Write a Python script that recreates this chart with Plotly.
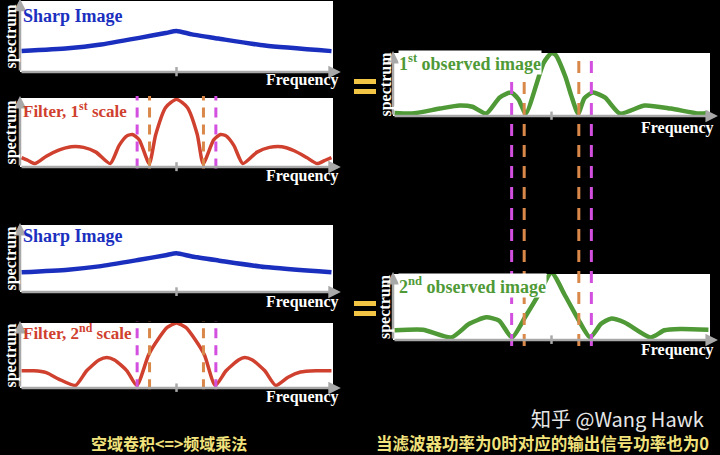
import plotly.graph_objects as go

W, H = 720, 455

# frequency runs -5..5 across every box, amplitude 0..1 is the box height
sharp_freq = [-5.0, -3.5, -2.5, -1.2, -0.35, 0.0, 0.5, 1.35, 2.85, 5.0]
sharp_amp = [0.28, 0.32, 0.37, 0.47, 0.54, 0.57, 0.52, 0.46, 0.36, 0.28]

filter1_freq = [-5.0, -4.8, -4.57, -4.2, -3.8, -3.4, -3.0, -2.6, -2.14, -1.85, -1.6, -1.42,
                -1.2, -0.88, -0.67, -0.35, 0.0, 0.35, 0.67, 0.86, 1.2, 1.42, 1.6, 1.85,
                2.14, 2.6, 3.0, 3.4, 3.8, 4.2, 4.54, 4.8, 5.0]
filter1_amp = [0.12, 0.08, 0.03, 0.14, 0.23, 0.28, 0.27, 0.2, 0.03, 0.3, 0.44, 0.46,
               0.38, 0.03, 0.46, 0.86, 0.98, 0.86, 0.46, 0.03, 0.38, 0.46, 0.44, 0.3,
               0.03, 0.2, 0.27, 0.28, 0.22, 0.12, 0.03, 0.08, 0.12]

filter2_freq = [-5.0, -4.6, -4.2, -3.8, -3.26, -2.9, -2.5, -2.25, -2.0, -1.6, -1.28, -0.9,
                -0.6, -0.3, 0.0, 0.3, 0.6, 0.9, 1.25, 1.6, 2.0, 2.2, 2.45, 2.85, 3.2,
                3.6, 4.0, 4.5, 5.0]
filter2_amp = [0.25, 0.25, 0.22, 0.12, 0.02, 0.25, 0.42, 0.46, 0.42, 0.25, 0.02, 0.5,
               0.74, 0.93, 1.0, 0.93, 0.74, 0.5, 0.02, 0.25, 0.42, 0.46, 0.42, 0.25, 0.02,
               0.15, 0.23, 0.25, 0.25]

obs1_freq = [-5.0, -4.45, -3.56, -2.93, -2.52, -2.08, -1.65, -1.29, -1.05, -0.82, -0.25,
             0.0, 0.13, 0.44, 0.63, 0.85, 1.05, 1.32, 1.7, 2.18, 2.97, 3.8, 4.7, 5.0]
obs1_amp = [0.03, 0.02, 0.1, 0.15, 0.13, 0.02, 0.28, 0.36, 0.25, 0.02, 0.84,
            1.0, 0.97, 0.62, 0.31, 0.02, 0.27, 0.36, 0.28, 0.02, 0.15, 0.1, 0.02, 0.03]

obs2_freq = [-5.0, -4.1, -3.19, -2.62, -2.08, -1.67, -1.26, -0.82, -0.41, 0.0, 0.44, 0.85,
             1.23, 1.58, 1.89, 2.33, 3.15, 3.6, 4.1, 5.0]
obs2_amp = [0.13, 0.14, 0.02, 0.23, 0.33, 0.28, 0.02, 0.35, 0.68, 1.02, 0.66, 0.3,
            0.02, 0.23, 0.31, 0.25, 0.02, 0.13, 0.15, 0.14]

peak_dot_freq = [0.0]
filter1_dot_amp = [1.08]
filter2_dot_amp = [1.12]

# zeros of the two filters
magenta_cuts = [-1.27, 1.27]
orange_cuts = [-0.87, 0.87]

titles = ["Sharp Image", "Filter, 1<sup>st</sup> scale", "Sharp Image",
          "Filter, 2<sup>nd</sup> scale", "1<sup>st</sup> observed image",
          "2<sup>nd</sup> observed image"]
caption_left = "空域卷积<=>频域乘法"
caption_right = "当滤波器功率为0时对应的输出信号功率也为0"
watermark = "知乎 @Wang Hawk"

BLUE = "#1b2fbf"
RED = "#d0402e"
GREEN = "#4f9a37"
GRAY = "#a8a8a8"
MAGENTA = "#d24fe0"
ORANGE = "#d9884a"
GOLD = "#f2c544"
CAPTION = "#f1e27c"
SERIF = "Liberation Serif"


def px(x):
    return x / W


def py(y):
    return 1 - y / H


# boxes in pixels: x0, x1, y0 (top), y1 (bottom)
boxes = [
    (20, 333, 1, 72),
    (20, 333, 98, 167),
    (20, 333, 225, 292),
    (20, 333, 323, 388),
    (393, 710, 53, 116),
    (393, 710, 274, 340),
]
series = [
    (sharp_freq, sharp_amp, BLUE, 4.5),
    (filter1_freq, filter1_amp, RED, 3.5),
    (sharp_freq, sharp_amp, BLUE, 4.5),
    (filter2_freq, filter2_amp, RED, 3.5),
    (obs1_freq, obs1_amp, GREEN, 4.5),
    (obs2_freq, obs2_amp, GREEN, 4.5),
]
title_colors = [BLUE, RED, BLUE, RED, GREEN, GREEN]
title_pos = [(22, 16), (22, 110), (22, 236), (22, 332), (398, 63), (398, 285)]
title_sizes = [18, 17, 18, 17, 18, 18]
freq_pos = [(341, 80), (341, 176), (341, 302), (341, 397), (716, 128), (716, 350)]
spec_x = [10, 10, 10, 10, 385, 385]

fig = go.Figure()
layout = dict(
    width=W, height=H, margin=dict(l=0, r=0, t=0, b=0),
    paper_bgcolor="black", plot_bgcolor="white", showlegend=False,
)
annotations = []
shapes = []

for i, (box, (fx, fy, color, lw)) in enumerate(zip(boxes, series)):
    n = "" if i == 0 else str(i + 1)
    xa, ya = "x" + n, "y" + n
    x0, x1, y0, y1 = box
    layout["xaxis" + n] = dict(domain=[px(x0), px(x1)], range=[-5.05, 5.05], anchor=ya,
                               visible=False, fixedrange=True)
    layout["yaxis" + n] = dict(domain=[py(y1), py(y0)], range=[-0.02, 1.0], anchor=xa,
                               visible=False, fixedrange=True)
    fig.add_trace(go.Scatter(
        x=fx, y=fy, mode="lines", xaxis=xa, yaxis=ya,
        line=dict(color=color, width=lw, shape="spline", smoothing=0.6),
    ))

    # axes with arrow heads
    annotations.append(dict(
        x=1.025, y=0, ax=0, ay=0, xref=xa + " domain", yref=ya + " domain",
        axref=xa + " domain", ayref=ya + " domain", text="", showarrow=True,
        arrowhead=2, arrowsize=1, arrowwidth=2.5, arrowcolor=GRAY,
    ))
    annotations.append(dict(
        x=0, y=1.03, ax=0, ay=0, xref=xa + " domain", yref=ya + " domain",
        axref=xa + " domain", ayref=ya + " domain", text="", showarrow=True,
        arrowhead=2, arrowsize=1, arrowwidth=2.5, arrowcolor=GRAY,
    ))
    shapes.append(dict(type="line", xref=xa, yref=ya + " domain", x0=0, x1=0,
                       y0=-0.06, y1=0.07, line=dict(color=GRAY, width=2.5)))

    tx, ty = title_pos[i]
    annotations.append(dict(
        x=px(tx), y=py(ty), xref="paper", yref="paper", xanchor="left", yanchor="middle",
        text="<b>" + titles[i] + "</b>", showarrow=False,
        font=dict(family=SERIF, size=title_sizes[i], color=title_colors[i]),
        bgcolor="white" if i >= 4 else None, borderpad=0,
    ))
    fxp, fyp = freq_pos[i]
    annotations.append(dict(
        x=px(fxp), y=py(fyp), xref="paper", yref="paper", xanchor="right", yanchor="middle",
        text="<b>Frequency</b>", showarrow=False,
        font=dict(family=SERIF, size=16, color="white"),
    ))
    annotations.append(dict(
        x=px(spec_x[i]), y=py((y0 + y1) / 2), xref="paper", yref="paper",
        xanchor="center", yanchor="middle",
        text="<b>spectrum</b>", showarrow=False, textangle=-90,
        font=dict(family=SERIF, size=16, color="white"),
    ))

# dashed lines in the filter boxes
for xa, ya in (("x2", "y2"), ("x4", "y4")):
    for cuts, color in ((magenta_cuts, MAGENTA), (orange_cuts, ORANGE)):
        for c in cuts:
            shapes.append(dict(type="line", xref=xa, yref=ya + " domain", x0=c, x1=c,
                               y0=-0.02, y1=1.03, layer="above",
                               line=dict(color=color, width=3, dash="10px,7px")))

# dashed lines running through both observed boxes
for cuts, color in ((magenta_cuts, MAGENTA), (orange_cuts, ORANGE)):
    for c in cuts:
        shapes.append(dict(type="line", xref="x5", yref="paper", x0=c, x1=c,
                           y0=py(346), y1=py(52), layer="above",
                           line=dict(color=color, width=3, dash="12px,9px")))

# gold dots above the filter peaks
fig.add_trace(go.Scatter(x=peak_dot_freq, y=filter1_dot_amp, mode="markers", xaxis="x2",
                         yaxis="y2", cliponaxis=False, marker=dict(color=GOLD, size=11)))
fig.add_trace(go.Scatter(x=peak_dot_freq, y=filter2_dot_amp, mode="markers", xaxis="x4",
                         yaxis="y4", cliponaxis=False, marker=dict(color=GOLD, size=11)))

# yellow "=" signs
for top in (79, 301):
    for dy in (0, 10):
        shapes.append(dict(type="rect", xref="paper", yref="paper",
                           x0=px(354), x1=px(376), y0=py(top + dy + 5), y1=py(top + dy),
                           fillcolor=GOLD, line=dict(width=0)))

annotations.append(dict(x=px(169), y=py(443), xref="paper", yref="paper",
                        text="<b>" + caption_left + "</b>",
                        xanchor="center", yanchor="middle", showarrow=False,
                        font=dict(family="Noto Sans CJK SC", size=16, color=CAPTION)))
annotations.append(dict(x=px(542), y=py(443), xref="paper", yref="paper",
                        text="<b>" + caption_right + "</b>",
                        xanchor="center", yanchor="middle", showarrow=False,
                        font=dict(family="Noto Sans CJK SC", size=16.5, color=CAPTION)))
annotations.append(dict(x=px(706), y=py(418), xref="paper", yref="paper", xanchor="right",
                        yanchor="middle", text=watermark, showarrow=False,
                        font=dict(family="Noto Sans CJK SC", size=20, color="#e6e6e6")))

layout["annotations"] = annotations
layout["shapes"] = shapes
fig.update_layout(**layout)

fig.write_html("out.html", config={"displayModeBar": False},
               post_script="document.body.style.margin='0';")
